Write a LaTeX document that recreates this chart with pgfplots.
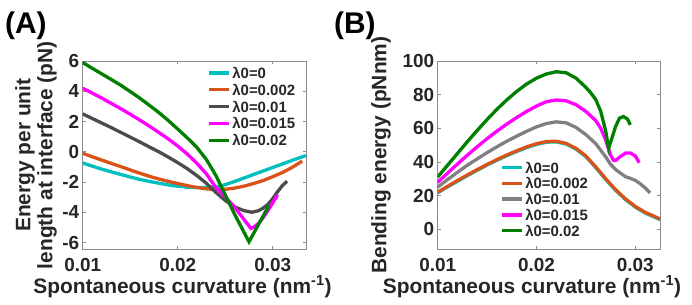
\documentclass[border=0pt]{standalone}
\usepackage{fontspec}
\setmainfont{Liberation Sans}
\usepackage{pgfplots}
\pgfplotsset{compat=1.18}
\definecolor{mcyan}{rgb}{0,0.75,0.75}
\definecolor{morange}{rgb}{0.85,0.325,0.098}
\definecolor{mgrayA}{rgb}{0.3,0.3,0.3}
\definecolor{mgrayB}{rgb}{0.5,0.5,0.5}
\definecolor{mmag}{rgb}{1,0,1}
\definecolor{mgreen}{rgb}{0,0.5,0}
\definecolor{txt}{rgb}{0.15,0.15,0.15}
\pgfplotsset{
  myax/.style={
    scale only axis, height=188.3bp,
    axis line style={draw=black!45, line width=0.5bp},
    tick style={draw=black!45, line width=0.5bp},
    major tick length=3bp, tick align=inside,
    xtick={0.01,0.02,0.03}, xticklabels={0.01,0.02,0.03},
    scaled x ticks=false, scaled y ticks=false,
    tick label style={font=\fontsize{19}{19}\selectfont\bfseries, text=txt},
    xticklabel style={yshift=-5bp},
    label style={font=\fontsize{21}{22}\selectfont\bfseries, text=txt, inner sep=0pt},
    every axis plot/.append style={line width=3.3bp, no markers},
    legend cell align=left,
    legend image code/.code={\draw[##1, line width=3.3bp] (0bp,0bp) -- (20bp,0bp);},
    legend style={draw=none, fill=none, font=\fontsize{15}{15}\selectfont\bfseries, text=txt,
      nodes={inner sep=1.5bp, text height=11bp, text depth=0bp}},
  }
}
\begin{document}
\begin{tikzpicture}
\path[use as bounding box] (0bp,0bp) rectangle (692bp,305bp);
\begin{axis}[myax, at={(82.7bp,55.7bp)}, anchor=south west, width=223.3bp,
  xmin=0.01, xmax=0.0335, ymin=-6.45, ymax=6,
  ytick={-6,-4,-2,0,2,4,6}, yticklabels={-6,-4,-2,0,2,4,6},
  xlabel={Spontaneous curvature (nm\textsuperscript{-1})},
  xlabel style={at={(axis description cs:0.447,-0.234)}, anchor=base},
  ylabel={Energy per unit\\length at interface (pN)},
  ylabel style={align=center, at={(axis description cs:-0.115,0.5)}, anchor=south},
  legend style={at={(rel axis cs:0.545,0.985)}, anchor=north west, row sep=2.8bp}]
\addplot[mcyan] coordinates {(0.01,-0.74) (0.011,-0.95) (0.012,-1.15) (0.013,-1.33) (0.014,-1.5) (0.015,-1.67) (0.016,-1.83) (0.017,-1.96) (0.018,-2.08) (0.019,-2.19) (0.020,-2.28) (0.021,-2.34) (0.022,-2.37) (0.023,-2.37) (0.024,-2.32) (0.025,-2.18) (0.026,-1.96) (0.027,-1.73) (0.028,-1.5) (0.029,-1.27) (0.030,-1.04) (0.031,-0.81) (0.032,-0.58) (0.033,-0.36) (0.0335,-0.25)};
\addlegendentry{λ0=0}
\addplot[morange] coordinates {(0.01,-0.1) (0.011,-0.33) (0.012,-0.55) (0.013,-0.77) (0.014,-0.98) (0.015,-1.2) (0.016,-1.42) (0.017,-1.62) (0.018,-1.8) (0.019,-1.96) (0.020,-2.1) (0.021,-2.24) (0.022,-2.36) (0.023,-2.45) (0.024,-2.5) (0.025,-2.48) (0.026,-2.4) (0.027,-2.27) (0.028,-2.1) (0.029,-1.9) (0.030,-1.65) (0.031,-1.38) (0.032,-1.05) (0.0331,-0.62)};
\addlegendentry{λ0=0.002}
\addplot[mgrayA] coordinates {(0.01,2.5) (0.011,2.2) (0.012,1.9) (0.013,1.6) (0.014,1.28) (0.015,0.97) (0.016,0.65) (0.017,0.32) (0.018,0.0) (0.019,-0.35) (0.020,-0.72) (0.021,-1.12) (0.022,-1.57) (0.023,-2.08) (0.024,-2.68) (0.025,-3.22) (0.026,-3.65) (0.027,-3.9) (0.0278,-4.0) (0.0285,-3.9) (0.029,-3.72) (0.0295,-3.47) (0.030,-3.1) (0.0305,-2.65) (0.031,-2.25) (0.0315,-1.95)};
\addlegendentry{λ0=0.01}
\addplot[mmag] coordinates {(0.01,4.2) (0.011,3.88) (0.012,3.55) (0.013,3.2) (0.014,2.85) (0.015,2.48) (0.016,2.1) (0.017,1.7) (0.018,1.28) (0.019,0.85) (0.020,0.38) (0.021,-0.15) (0.022,-0.75) (0.023,-1.45) (0.024,-2.35) (0.025,-2.98) (0.026,-3.68) (0.027,-4.5) (0.0277,-5.07) (0.028,-4.98) (0.0285,-4.75) (0.029,-4.35) (0.0295,-3.88) (0.030,-3.38) (0.0305,-2.85)};
\addlegendentry{λ0=0.015}
\addplot[mgreen] coordinates {(0.01,5.9) (0.011,5.52) (0.012,5.15) (0.013,4.78) (0.014,4.4) (0.015,3.98) (0.016,3.55) (0.017,3.08) (0.018,2.6) (0.019,2.07) (0.020,1.5) (0.021,0.92) (0.022,0.3) (0.023,-0.5) (0.024,-1.55) (0.025,-2.85) (0.026,-4.15) (0.027,-5.35) (0.0275,-5.95) (0.028,-5.38) (0.029,-4.24) (0.0296,-3.55)};
\addlegendentry{λ0=0.02}
\end{axis}
\begin{axis}[myax, at={(437.7bp,55.7bp)}, anchor=south west, width=222.3bp,
  xmin=0.01, xmax=0.0325, ymin=-12, ymax=100,
  ytick={0,20,40,60,80,100}, yticklabels={0,20,40,60,80,100},
  xlabel={Spontaneous curvature (nm\textsuperscript{-1})},
  xlabel style={at={(axis description cs:0.424,-0.234)}, anchor=base},
  ylabel={Bending energy (pNnm)},
  ylabel style={at={(axis description cs:-0.21,0.5)}, anchor=south},
  legend style={at={(rel axis cs:0.268,0.483)}, anchor=north west, row sep=1.8bp}]
\addplot[mcyan] coordinates {(0.01,21.6) (0.011,25.1) (0.012,28.5) (0.013,31.8) (0.014,35) (0.015,38.1) (0.016,41) (0.017,43.7) (0.018,46.2) (0.019,48.5) (0.020,50.4) (0.021,51.7) (0.022,51.9) (0.023,50.6) (0.024,47.6) (0.025,43.1) (0.026,36.6) (0.027,29.6) (0.028,23.1) (0.029,17.6) (0.030,13.1) (0.031,9.6) (0.032,7.0) (0.0325,5.6)};
\addlegendentry{λ0=0}
\addplot[morange] coordinates {(0.01,22) (0.011,25.5) (0.012,28.9) (0.013,32.2) (0.014,35.4) (0.015,38.5) (0.016,41.4) (0.017,44.1) (0.018,46.6) (0.019,48.9) (0.020,50.8) (0.021,52.1) (0.022,52.3) (0.023,51) (0.024,48) (0.025,43.5) (0.026,37) (0.027,30) (0.028,23.5) (0.029,18) (0.030,13.5) (0.031,10) (0.032,7.4) (0.0325,6)};
\addlegendentry{λ0=0.002}
\addplot[mgrayB] coordinates {(0.01,25) (0.011,29.5) (0.012,33.8) (0.013,38) (0.014,41.8) (0.015,45.5) (0.016,49) (0.017,52.3) (0.018,55.3) (0.019,58.2) (0.020,60.8) (0.021,62.8) (0.022,63.8) (0.023,63.2) (0.024,60.5) (0.025,56.2) (0.026,50.8) (0.027,43) (0.0275,38.5) (0.028,35.5) (0.0285,33.3) (0.029,31.2) (0.0295,30.2) (0.030,29) (0.0305,27) (0.031,24.5) (0.0315,21.6)};
\addlegendentry{λ0=0.01}
\addplot[mmag] coordinates {(0.01,27.8) (0.011,33.3) (0.012,38.7) (0.013,44) (0.014,49) (0.015,53.8) (0.016,58.3) (0.017,62.5) (0.018,66.4) (0.019,70) (0.020,73.2) (0.021,75.8) (0.022,76.8) (0.023,76.3) (0.024,74) (0.025,70) (0.026,64.5) (0.0265,60) (0.027,53) (0.0275,44) (0.0278,41) (0.028,40.8) (0.0285,43.2) (0.029,45.2) (0.0295,45.3) (0.030,43.5) (0.0304,39.5)};
\addlegendentry{λ0=0.015}
\addplot[mgreen] coordinates {(0.01,31) (0.011,38) (0.012,45) (0.013,52) (0.014,58.7) (0.015,65.2) (0.016,71.3) (0.017,76.9) (0.018,81.9) (0.019,86.3) (0.020,89.8) (0.021,92.3) (0.022,93.6) (0.023,93) (0.024,89.8) (0.025,84.3) (0.0255,81) (0.026,77) (0.0265,70) (0.027,58.5) (0.0273,48) (0.0276,53.5) (0.028,61) (0.0284,66) (0.0288,67) (0.0292,65.5) (0.0295,62)};
\addlegendentry{λ0=0.02}
\end{axis}
\node[anchor=base west, inner sep=0pt, font=\fontsize{30}{30}\selectfont\bfseries, text=black] at (5bp,271.7bp) {(A)};
\node[anchor=base west, inner sep=0pt, font=\fontsize{30}{30}\selectfont\bfseries, text=black] at (334bp,271.7bp) {(B)};
\end{tikzpicture}
\end{document}
